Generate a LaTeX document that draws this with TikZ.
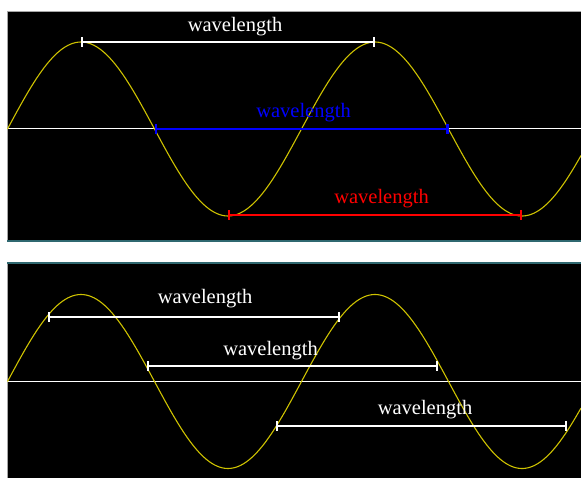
\documentclass[tikz,border=0pt]{standalone}
\usepackage{fontspec}
\setmainfont{Liberation Serif}
\usetikzlibrary{arrows.meta}
\definecolor{waveyellow}{RGB}{206,194,0}
\definecolor{paneledge}{RGB}{47,104,112}
\definecolor{barblue}{RGB}{0,0,255}
\definecolor{barred}{RGB}{255,0,0}
\tikzset{
  wave/.style={waveyellow,line width=1.1pt},
  axisline/.style={white,line width=1pt},
  barline/.style={line width=2.4pt,{Bar[width=10pt]}-{Bar[width=10pt]}},
  lbl/.style={font=\fontsize{20.5}{24}\selectfont,inner sep=0pt}
}
\begin{document}
\begin{tikzpicture}[x=1pt,y=-1pt]
            \useasboundingbox (0,0) rectangle (581,478);               % page in pixels
            % upper panel
            \fill[black] (7,12) rectangle (581,241);
            \draw[gray!70,line width=1pt] (7,241)--(7,12)--(581,12);    % top and left edge
            \draw[paneledge,line width=1.2pt] (7,241)--(581,241);      % bottom edge
            \draw[axisline] (7,129)--(581,129);                        % rest line
            \draw[wave] plot[domain=7.5:581,samples=220]
                (\x,{129-87*sin((\x-7.5)/294*360)});                    % one and a half waves
            \coordinate (crestA) at (81,42);
            \coordinate (crestB) at (375,42);
            \coordinate (nodeA) at (154.5,129);
            \coordinate (nodeB) at (448.5,129);
            \coordinate (troughA) at (228,215);
            \coordinate (troughB) at (522,215);
            \draw[barline,white] (crestA)--(crestB);                    % crest to crest
            \draw[barline,barblue] (nodeA)--(nodeB);                    % zero to zero
            \draw[barline,barred] (troughA)--(troughB);                 % trough to trough
            \node[lbl,white] (crestLbl) at (235,27) {wavelength};
            \node[lbl,barblue] (nodeLbl) at (303.5,113) {wavelength};
            \node[lbl,barred] (troughLbl) at (381.5,198.5) {wavelength};
            % lower panel
            \fill[black] (7,263) rectangle (581,478);
            \draw[gray!70,line width=1pt] (7,478)--(7,263);             % left edge
            \draw[paneledge,line width=1.2pt] (7,263)--(581,263);      % top edge
            \draw[axisline] (7,381.5)--(581,381.5);                    % rest line
            \draw[wave] plot[domain=7.5:581,samples=220]
                (\x,{381.5-87*sin((\x-7.5)/294*360)});
            \coordinate (oneA) at (47.5,317);
            \coordinate (oneB) at (340,317);
            \coordinate (twoA) at (146.5,366);
            \coordinate (twoB) at (438,366);
            \coordinate (threeA) at (275.5,426);
            \coordinate (threeB) at (567,426);
            \draw[barline,white] (oneA)--(oneB);                        % any matching points
            \draw[barline,white] (twoA)--(twoB);
            \draw[barline,white] (threeA)--(threeB);
            \node[lbl,white] (oneLbl) at (205,298.5) {wavelength};
            \node[lbl,white] (twoLbl) at (270.5,350.5) {wavelength};
            \node[lbl,white] (threeLbl) at (425,410) {wavelength};
        \end{tikzpicture}
\end{document}
